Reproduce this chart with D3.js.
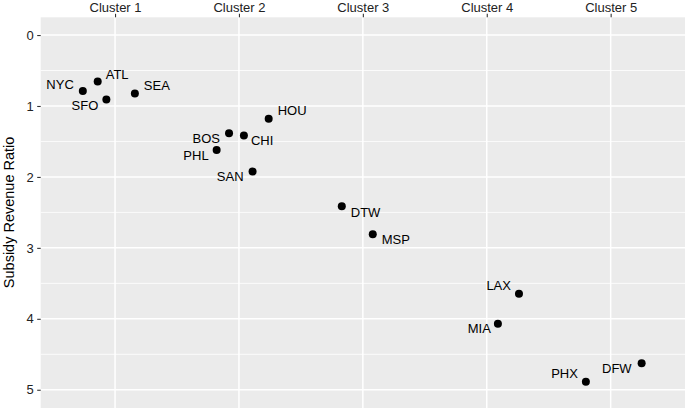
<!DOCTYPE html>
<html>
<head>
<meta charset="utf-8">
<script src="https://cdn.jsdelivr.net/npm/d3@7"></script>
<style>
  body { margin: 0; background: #fff; }
  svg text { font-family: "Liberation Sans", Arial, sans-serif; }
</style>
</head>
<body>
<div id="chart"></div>
<script>
"use strict";

// cluster names (x axis categories)
var clusters = ["Cluster 1", "Cluster 2", "Cluster 3", "Cluster 4", "Cluster 5"];

// airports, their cluster and jitter within the cluster
var airports = ["NYC", "ATL", "SFO", "SEA", "HOU", "BOS", "CHI", "PHL", "SAN", "DTW", "MSP", "LAX", "MIA", "PHX", "DFW"];
var airportCluster = [1, 1, 1, 1, 2, 2, 2, 2, 2, 3, 3, 4, 4, 5, 5];
var jitter = [-0.26, -0.14, -0.07, 0.16, 0.24, -0.08, 0.04, -0.18, 0.11, -0.17, 0.08, 0.26, 0.09, -0.2, 0.25];

// subsidy revenue ratio
var ratio = [0.79, 0.655, 0.91, 0.825, 1.18, 1.385, 1.417, 1.62, 1.924, 2.413, 2.807, 3.648, 4.07, 4.887, 4.627];

// y axis ticks
var yTicks = [0, 1, 2, 3, 4, 5];

// label placement (like ggrepel output): side + offset in px
var labelPos = [
    ["end", -9, -7], ["start", 8, -7], ["end", -8, 6], ["start", 9, -8],
    ["start", 9, -8], ["end", -9, 5], ["start", 7, 5], ["end", -8, 5],
    ["end", -9, 5], ["start", 9, 6], ["start", 9, 5], ["end", -8, -8],
    ["end", -7, 5], ["end", -8, -8], ["end", -10, 5]
];

var W = 685, H = 408;
var margin = {top: 17.3, right: 0, bottom: 0.5, left: 40.7};
var w = W - margin.left - margin.right;
var h = H - margin.top - margin.bottom;

var svg = d3.select("#chart").append("svg")
    .attr("width", W)
    .attr("height", H);

var g = svg.append("g")
    .attr("transform", "translate(" + margin.left + "," + margin.top + ")");

// scales
var x = d3.scalePoint()
    .domain(clusters)
    .range([0, w])
    .padding(0.6);

var y = d3.scaleLinear()
    .domain([-0.25, 5.25])
    .range([0, h]);

// panel background
g.append("rect")
    .attr("width", w)
    .attr("height", h + 2)
    .attr("fill", "#ebebeb");

// minor grid
g.selectAll("line.minor")
    .data([0.5, 1.5, 2.5, 3.5, 4.5])
    .enter().append("line")
    .attr("class", "minor")
    .attr("x1", 0).attr("x2", w)
    .attr("y1", function(d) { return y(d); })
    .attr("y2", function(d) { return y(d); })
    .attr("stroke", "#fff")
    .attr("stroke-width", 0.8);

// major grid
g.selectAll("line.hmajor")
    .data(yTicks)
    .enter().append("line")
    .attr("class", "hmajor")
    .attr("x1", 0).attr("x2", w)
    .attr("y1", function(d) { return y(d); })
    .attr("y2", function(d) { return y(d); })
    .attr("stroke", "#fff")
    .attr("stroke-width", 1.5);

g.selectAll("line.vmajor")
    .data(clusters)
    .enter().append("line")
    .attr("class", "vmajor")
    .attr("x1", function(d) { return x(d); })
    .attr("x2", function(d) { return x(d); })
    .attr("y1", 0).attr("y2", h + 2)
    .attr("stroke", "#fff")
    .attr("stroke-width", 1.5);

// x axis on top
var xAxis = g.append("g")
    .call(d3.axisTop(x).tickSize(3.5).tickPadding(2));
xAxis.select(".domain").remove();
xAxis.selectAll(".tick line").attr("stroke", "#333").attr("stroke-width", 1.1);
xAxis.selectAll("text")
    .attr("fill", "#222")
    .style("font-size", "13px");

// y axis on left
var yAxis = g.append("g")
    .call(d3.axisLeft(y).tickValues(yTicks).tickFormat(d3.format("d")).tickSize(3.5).tickPadding(3.5));
yAxis.select(".domain").remove();
yAxis.selectAll(".tick line").attr("stroke", "#333").attr("stroke-width", 1.1);
yAxis.selectAll("text")
    .attr("fill", "#222")
    .style("font-size", "13px");

// y axis title
svg.append("text")
    .attr("transform", "translate(14," + (margin.top + h / 2) + ") rotate(-90)")
    .style("text-anchor", "middle")
    .style("font-size", "14.5px")
    .attr("fill", "#000")
    .text("Subsidy Revenue Ratio");

// points
var px = function(i) { return x(clusters[airportCluster[i] - 1]) + jitter[i] * x.step(); };
var py = function(i) { return y(ratio[i]); };

g.selectAll("circle")
    .data(airports)
    .enter().append("circle")
    .attr("cx", function(d, i) { return px(i); })
    .attr("cy", function(d, i) { return py(i); })
    .attr("r", 4)
    .attr("fill", "#000");

// labels
g.selectAll("text.lab")
    .data(airports)
    .enter().append("text")
    .attr("class", "lab")
    .attr("x", function(d, i) { return px(i) + labelPos[i][1]; })
    .attr("y", function(d, i) { return py(i) + labelPos[i][2]; })
    .attr("dy", "0.35em")
    .style("text-anchor", function(d, i) { return labelPos[i][0]; })
    .style("font-size", "13px")
    .attr("fill", "#000")
    .text(function(d) { return d; });
</script>
</body>
</html>
